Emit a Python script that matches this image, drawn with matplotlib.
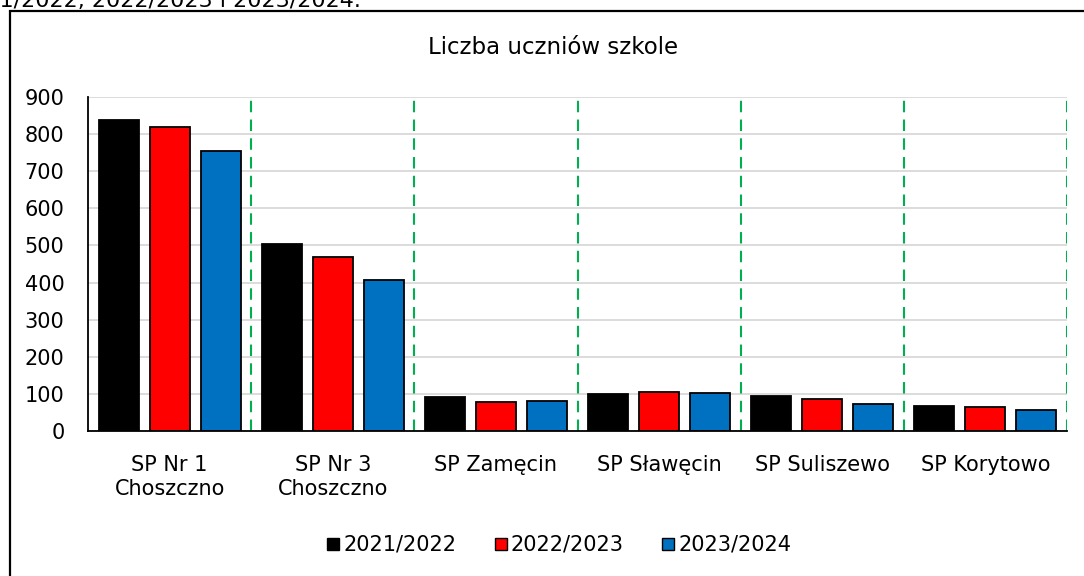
import matplotlib
matplotlib.use("Agg")
import matplotlib.pyplot as plt
import numpy as np
from matplotlib.lines import Line2D
from matplotlib.patches import Rectangle

# data
schools = ["SP Nr 1\nChoszczno", "SP Nr 3\nChoszczno", "SP Zamęcin",
           "SP Sławęcin", "SP Suliszewo", "SP Korytowo"]
years = ["2021/2022", "2022/2023", "2023/2024"]
y2021 = [839, 504, 91, 101, 93, 67]
y2022 = [820, 469, 79, 104, 85, 66]
y2023 = [754, 408, 82, 102, 73, 57]
colors = ["#000000", "#ff0000", "#0070c0"]

plt.rcParams["font.family"] = ["DejaVu Sans"]
FS = 15

W, H = 1084, 576
fig = plt.figure(figsize=(W / 100, H / 100), dpi=100)

# outer chart frame (right/bottom edges fall outside the crop)
fig.patches.append(Rectangle((10 / W, -0.05), 1.2, 1 - 11 / H + 0.05,
                             transform=fig.transFigure, fill=False,
                             edgecolor="black", linewidth=1.6))
# cropped caption line above the chart (cut off in the reference too)
fig.text(361 / W, 1 - 7 / H, "2021/2022, 2022/2023 i 2023/2024.",
         ha="right", va="baseline", fontsize=16)

ax = fig.add_axes([88 / W, 1 - 431 / H, (1067 - 88) / W, (431 - 97) / H])

x = np.arange(len(schools))
bw = 0.245
step = 0.313
for i, (vals, c) in enumerate(zip([y2021, y2022, y2023], colors)):
    ax.bar(x + (i - 1) * step, vals, width=bw, color=c,
           edgecolor="black", linewidth=1.3, zorder=3)

ax.set_xlim(-0.5, len(schools) - 0.5)
ax.set_ylim(0, 900)
ax.set_yticks(range(0, 901, 100))
ax.yaxis.grid(True, color="#d9d9d9", linewidth=1.3, zorder=0)
ax.set_axisbelow(True)

for b in np.arange(0.5, len(schools), 1.0):
    ax.axvline(b, color="#00b050", linewidth=1.5,
               linestyle=(0, (5.5, 3.5)), zorder=2)

ax.set_xticks(x)
ax.set_xticklabels(schools, fontsize=FS, linespacing=1.3)
ax.tick_params(axis="x", length=0, pad=17)
ax.tick_params(axis="y", length=0, pad=17, labelsize=FS)

for s in ["top", "right"]:
    ax.spines[s].set_visible(False)
ax.spines["left"].set_linewidth(1.3)
ax.spines["bottom"].set_linewidth(1.3)
ax.spines["left"].set_zorder(4)
ax.spines["bottom"].set_zorder(4)

fig.text(553 / W, 1 - 48 / H, "Liczba uczniów szkole", ha="center",
         va="center", fontsize=16.5)

handles = [Line2D([], [], marker="s", linestyle="none", markersize=9,
                  markerfacecolor=c, markeredgecolor="black",
                  markeredgewidth=1.0) for c in colors]
fig.legend(handles, years, loc="center", bbox_to_anchor=(557 / W, 1 - 545 / H),
           ncol=3, frameon=False, fontsize=FS, handletextpad=0.0,
           columnspacing=1.6, handlelength=1.0)

fig.savefig("out.png", dpi=100)
